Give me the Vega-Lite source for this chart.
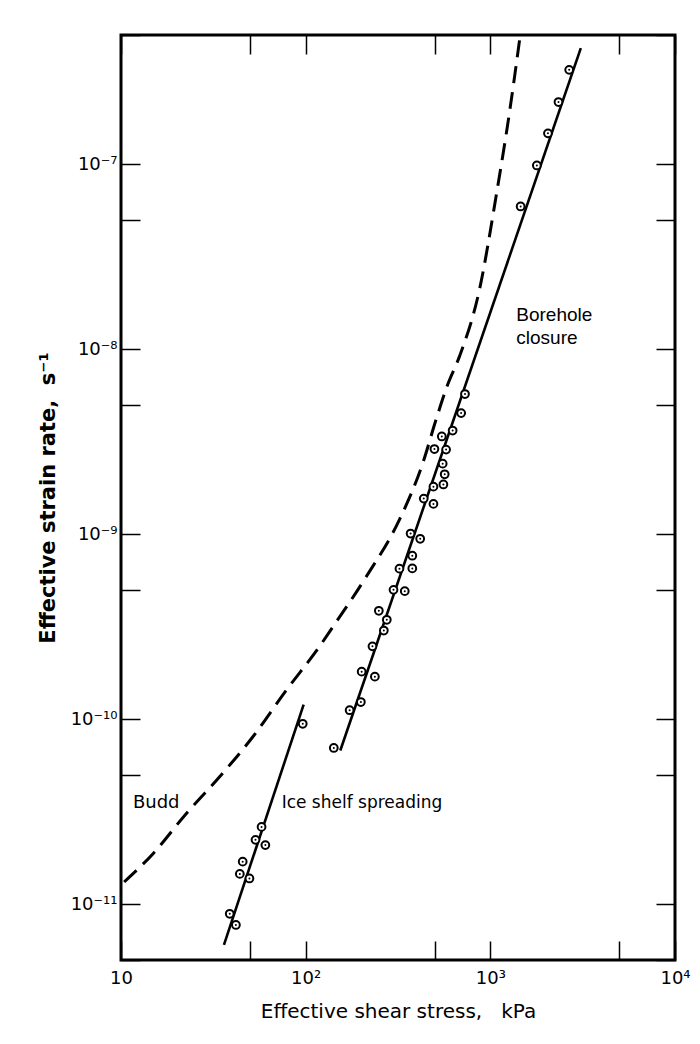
{
  "$schema": "https://vega.github.io/schema/vega-lite/v6.json",
  "width": 554,
  "height": 925,
  "autosize": {"type": "none"},
  "padding": {"left": 121, "top": 35, "right": 25, "bottom": 84},
  "background": "white",
  "config": {
    "view": {"stroke": "black", "strokeWidth": 3},
    "font": "DejaVu Sans"
  },
  "datasets": {
    "budd": [
      {"stress": 10.4, "rate": 1.32e-11},
      {"stress": 15.0, "rate": 1.89e-11},
      {"stress": 22.6, "rate": 3.1e-11},
      {"stress": 34.3, "rate": 4.91e-11},
      {"stress": 51.9, "rate": 8.07e-11},
      {"stress": 78.7, "rate": 1.44e-10},
      {"stress": 119, "rate": 2.48e-10},
      {"stress": 141, "rate": 3.18e-10},
      {"stress": 213, "rate": 5.91e-10},
      {"stress": 322, "rate": 1.2e-9},
      {"stress": 431, "rate": 2.43e-9},
      {"stress": 508, "rate": 4.16e-9},
      {"stress": 587, "rate": 6.43e-9},
      {"stress": 679, "rate": 9.1e-9},
      {"stress": 873, "rate": 2.1e-8},
      {"stress": 1074, "rate": 6.7e-8},
      {"stress": 1268, "rate": 1.89e-7},
      {"stress": 1452, "rate": 5.0e-7}
    ],
    "fits": [
      {"series": "Borehole closure", "stress": 154, "rate": 6.78e-11},
      {"series": "Borehole closure", "stress": 3090, "rate": 4.25e-7},
      {"series": "Ice shelf spreading", "stress": 36.1, "rate": 6.04e-12},
      {"series": "Ice shelf spreading", "stress": 97.5, "rate": 1.2e-10}
    ],
    "obs": [
      {"series": "Borehole closure", "stress": 2673, "rate": 3.24e-7},
      {"series": "Borehole closure", "stress": 2339, "rate": 2.17e-7},
      {"series": "Borehole closure", "stress": 2051, "rate": 1.47e-7},
      {"series": "Borehole closure", "stress": 1786, "rate": 9.86e-8},
      {"series": "Borehole closure", "stress": 1459, "rate": 5.92e-8},
      {"series": "Borehole closure", "stress": 729, "rate": 5.73e-9},
      {"series": "Borehole closure", "stress": 695, "rate": 4.52e-9},
      {"series": "Borehole closure", "stress": 625, "rate": 3.64e-9},
      {"series": "Borehole closure", "stress": 546, "rate": 3.38e-9},
      {"series": "Borehole closure", "stress": 498, "rate": 2.89e-9},
      {"series": "Borehole closure", "stress": 576, "rate": 2.87e-9},
      {"series": "Borehole closure", "stress": 552, "rate": 2.41e-9},
      {"series": "Borehole closure", "stress": 566, "rate": 2.11e-9},
      {"series": "Borehole closure", "stress": 557, "rate": 1.86e-9},
      {"series": "Borehole closure", "stress": 492, "rate": 1.81e-9},
      {"series": "Borehole closure", "stress": 436, "rate": 1.56e-9},
      {"series": "Borehole closure", "stress": 492, "rate": 1.46e-9},
      {"series": "Borehole closure", "stress": 370, "rate": 1.01e-9},
      {"series": "Borehole closure", "stress": 417, "rate": 9.46e-10},
      {"series": "Borehole closure", "stress": 378, "rate": 7.66e-10},
      {"series": "Borehole closure", "stress": 322, "rate": 6.52e-10},
      {"series": "Borehole closure", "stress": 378, "rate": 6.54e-10},
      {"series": "Borehole closure", "stress": 299, "rate": 5.01e-10},
      {"series": "Borehole closure", "stress": 344, "rate": 4.93e-10},
      {"series": "Borehole closure", "stress": 249, "rate": 3.86e-10},
      {"series": "Borehole closure", "stress": 275, "rate": 3.45e-10},
      {"series": "Borehole closure", "stress": 265, "rate": 3.02e-10},
      {"series": "Borehole closure", "stress": 230, "rate": 2.48e-10},
      {"series": "Borehole closure", "stress": 201, "rate": 1.81e-10},
      {"series": "Borehole closure", "stress": 237, "rate": 1.7e-10},
      {"series": "Borehole closure", "stress": 199, "rate": 1.24e-10},
      {"series": "Borehole closure", "stress": 173, "rate": 1.12e-10},
      {"series": "Borehole closure", "stress": 142, "rate": 7.0e-11},
      {"series": "Ice shelf spreading", "stress": 96.4, "rate": 9.46e-11},
      {"series": "Ice shelf spreading", "stress": 57.7, "rate": 2.62e-11},
      {"series": "Ice shelf spreading", "stress": 53.5, "rate": 2.23e-11},
      {"series": "Ice shelf spreading", "stress": 60.5, "rate": 2.09e-11},
      {"series": "Ice shelf spreading", "stress": 45.6, "rate": 1.7e-11},
      {"series": "Ice shelf spreading", "stress": 44.0, "rate": 1.46e-11},
      {"series": "Ice shelf spreading", "stress": 49.6, "rate": 1.38e-11},
      {"series": "Ice shelf spreading", "stress": 38.8, "rate": 8.89e-12},
      {"series": "Ice shelf spreading", "stress": 41.9, "rate": 7.73e-12}
    ]
  },
  "layer": [
    {
      "data": {"name": "budd"},
      "mark": {"type": "line", "color": "black", "strokeWidth": 3, "strokeDash": [17, 9], "interpolate": "monotone", "clip": true},
      "encoding": {
        "x": {
          "field": "stress", "type": "quantitative",
          "scale": {"type": "log", "domain": [10, 10000]},
          "axis": {
            "orient": "bottom",
            "values": [10, 50, 100, 500, 1000, 5000, 10000],
            "labelExpr": "datum.value == 10 ? '10' : datum.value == 100 ? '10²' : datum.value == 1000 ? '10³' : datum.value == 10000 ? '10⁴' : ''",
            "domain": false, "grid": false,
            "tickSize": -19, "tickWidth": 1.5, "tickColor": "black",
            "labelFontSize": 18, "labelColor": "black", "labelPadding": 28,
            "labelFlush": false, "labelOverlap": false, "labelBound": false,
            "title": "Effective shear stress,\u00a0\u00a0\u00a0kPa",
            "titleFontSize": 20, "titleFontWeight": "normal", "titleColor": "black", "titlePadding": 14
          }
        },
        "y": {
          "field": "rate", "type": "quantitative",
          "scale": {"type": "log", "domain": [5e-12, 5e-7]},
          "axis": {
            "orient": "left",
            "values": [5e-12, 1e-11, 5e-11, 1e-10, 5e-10, 1e-9, 5e-9, 1e-8, 5e-8, 1e-7, 5e-7],
            "labelExpr": "abs(log(datum.value)/LN10 - round(log(datum.value)/LN10)) > 0.01 ? '' : round(log(datum.value)/LN10) == -7 ? '10⁻⁷' : round(log(datum.value)/LN10) == -8 ? '10⁻⁸' : round(log(datum.value)/LN10) == -9 ? '10⁻⁹' : round(log(datum.value)/LN10) == -10 ? '10⁻¹⁰' : round(log(datum.value)/LN10) == -11 ? '10⁻¹¹' : ''",
            "domain": false, "grid": false,
            "tickSize": -19, "tickWidth": 1.5, "tickColor": "black",
            "labelFontSize": 18, "labelColor": "black", "labelPadding": 23,
            "labelFlush": false, "labelOverlap": false, "labelBound": false,
            "title": "Effective strain rate,\u00a0\u00a0s⁻¹",
            "titleFontSize": 21, "titleFontWeight": "bold", "titleColor": "black", "titlePadding": 12
          }
        }
      }
    },
    {
      "data": {"name": "fits"},
      "mark": {"type": "line", "color": "black", "strokeWidth": 2.6},
      "encoding": {
        "x": {
          "field": "stress", "type": "quantitative",
          "scale": {"type": "log", "domain": [10, 10000]},
          "axis": {
            "orient": "top",
            "values": [10, 50, 100, 500, 1000, 5000, 10000],
            "labels": false, "domain": false, "grid": false, "title": null,
            "tickSize": -19, "tickWidth": 1.5, "tickColor": "black"
          }
        },
        "y": {
          "field": "rate", "type": "quantitative",
          "scale": {"type": "log", "domain": [5e-12, 5e-7]},
          "axis": {
            "orient": "right",
            "values": [5e-12, 1e-11, 5e-11, 1e-10, 5e-10, 1e-9, 5e-9, 1e-8, 5e-8, 1e-7, 5e-7],
            "labels": false, "domain": false, "grid": false, "title": null,
            "tickSize": -19, "tickWidth": 1.5, "tickColor": "black"
          }
        },
        "detail": {"field": "series"}
      }
    },
    {
      "data": {"name": "obs"},
      "mark": {"type": "point", "shape": "circle", "filled": true, "fill": "white", "stroke": "black", "strokeWidth": 2, "size": 60, "opacity": 1},
      "encoding": {
        "x": {"field": "stress", "type": "quantitative", "scale": {"type": "log", "domain": [10, 10000]}, "axis": null},
        "y": {"field": "rate", "type": "quantitative", "scale": {"type": "log", "domain": [5e-12, 5e-7]}, "axis": null}
      }
    },
    {
      "data": {"name": "obs"},
      "mark": {"type": "point", "shape": "circle", "filled": true, "color": "black", "size": 4, "opacity": 1},
      "encoding": {
        "x": {"field": "stress", "type": "quantitative", "scale": {"type": "log", "domain": [10, 10000]}, "axis": null},
        "y": {"field": "rate", "type": "quantitative", "scale": {"type": "log", "domain": [5e-12, 5e-7]}, "axis": null}
      }
    },
    {
      "data": {"values": [{}]},
      "mark": {"type": "text", "align": "left", "baseline": "middle", "fontSize": 18, "color": "black", "font": "DejaVu Sans"},
      "encoding": {
        "x": {"datum": 11.6, "type": "quantitative", "scale": {"type": "log", "domain": [10, 10000]}, "axis": null},
        "y": {"datum": 3.54e-11, "type": "quantitative", "scale": {"type": "log", "domain": [5e-12, 5e-7]}, "axis": null},
        "text": {"value": "Budd"}
      }
    },
    {
      "data": {"values": [{}]},
      "mark": {"type": "text", "align": "left", "baseline": "middle", "fontSize": 17, "color": "black", "font": "DejaVu Sans"},
      "encoding": {
        "x": {"datum": 74.1, "type": "quantitative", "scale": {"type": "log", "domain": [10, 10000]}, "axis": null},
        "y": {"datum": 3.54e-11, "type": "quantitative", "scale": {"type": "log", "domain": [5e-12, 5e-7]}, "axis": null},
        "text": {"value": "Ice shelf spreading"}
      }
    },
    {
      "data": {"values": [{}]},
      "mark": {"type": "text", "align": "left", "baseline": "alphabetic", "fontSize": 19, "lineHeight": 23, "color": "black", "font": "Liberation Sans"},
      "encoding": {
        "x": {"datum": 1382, "type": "quantitative", "scale": {"type": "log", "domain": [10, 10000]}, "axis": null},
        "y": {"datum": 1.43e-8, "type": "quantitative", "scale": {"type": "log", "domain": [5e-12, 5e-7]}, "axis": null},
        "text": {"value": ["Borehole", "closure"]}
      }
    }
  ],
  "resolve": {"axis": {"x": "independent", "y": "independent"}}
}
